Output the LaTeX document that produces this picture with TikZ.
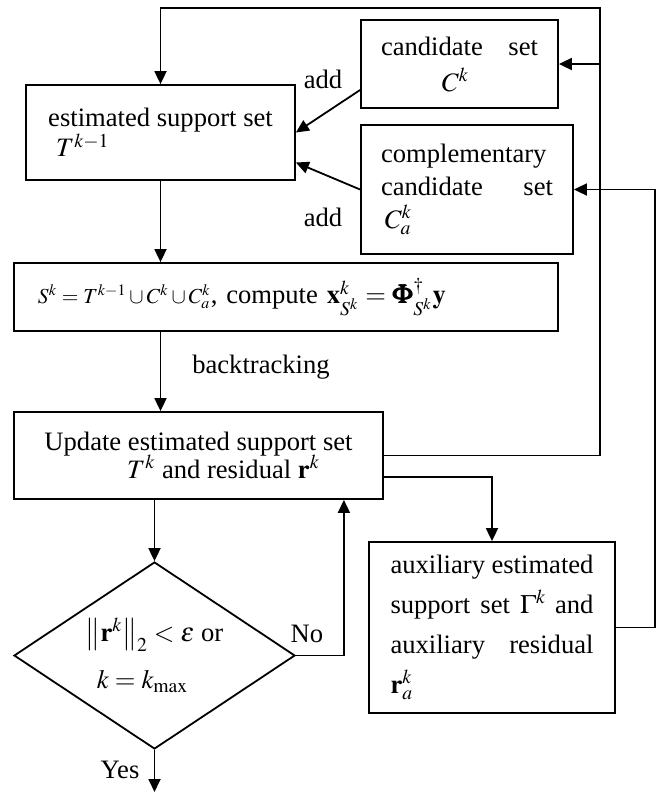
\documentclass[tikz,border=0pt]{standalone}
\usepackage{amsmath}
\usepackage{mathptmx}
\usepackage{bm}
\usepackage[no-math]{fontspec}
\setmainfont{Liberation Serif}
\usetikzlibrary{arrows.meta, positioning, shapes.geometric}
\newcommand{\boxfont}{\fontsize{13.3}{15}\selectfont\lineskiplimit=-10pt}
\tikzset{
	box/.style={draw, rectangle, line width=0.9pt, inner sep=0pt, font=\boxfont},
	decision/.style={draw, diamond, line width=0.9pt, inner sep=0pt, aspect=1.5,
		minimum width=140.5pt, minimum height=93.5pt, align=center, font=\boxfont},
	arr/.style={line width=0.9pt, -{Triangle[length=6.5pt,width=6pt]}},
	lbl/.style={font=\boxfont}
}

\begin{document}
\begin{tikzpicture}[x=0.5pt, y=-0.5pt, line join=miter]
	\useasboundingbox (0,0) rectangle (665,794);

	\node[box, minimum width=134.5pt, minimum height=47.5pt, align=left] (est) at (160.5,132.5)
		{estimated support set\\ \hspace*{4pt}$T^{k-1}$};
	\node[box, minimum width=98.5pt, minimum height=44pt, text width=78.5pt, align=center] (cand) at (459.5,64)
		{candidate\hfill set\\[3pt] \hspace*{-4pt}$C^k$};
	\node[box, minimum width=106pt, minimum height=64.5pt, text width=86pt, align=left] (comp) at (467,189.5)
		{complementary\\[1.5pt] candidate\hfill set\\[1.5pt] \hspace*{2pt}$C_a^k$};
	\node[box, minimum width=272pt, minimum height=34pt, text width=248pt, align=left] (sbox) at (286,297)
		{{\fontsize{10.7}{12}\selectfont $S^k=T^{k-1}\cup C^k\cup C_a^k$}, compute $\mathbf{x}_{S^k}^k=\bm{\Phi}_{S^k}^{\dagger}\mathbf{y}$};
	\node[box, minimum width=184.5pt, minimum height=43.5pt, align=center] (upd) at (198.5,455.5)
		{Update estimated support set\\[-1pt] \hspace*{25pt}$T^k$ and residual $\mathbf{r}^k$};
	\node[decision] (dec) at (154.5,655.5)
		{$\left\|\mathbf{r}^k\right\|_2<\varepsilon$ or\\[8.5pt] $k=k_{\max}$\hspace*{12pt}};
	\node[box, minimum width=123pt, minimum height=85.5pt, text width=101.5pt, align=left] (aux) at (492,627.5)
		{auxiliary\hfill estimated\\[5pt] support\hfill set\hfill $\Gamma^k$ and\\[5pt] auxiliary\hfill residual\\[5pt] $\mathbf{r}_a^k$};

	% labels
	\node[lbl] (add1) at (323,79) {add};
	\node[lbl] (add2) at (323,217) {add};
	\node[lbl] (bt) at (261,367) {backtracking};
	\node[lbl] (no) at (307,634) {No};
	\node[lbl] (yes) at (120,770) {Yes};

	\coordinate (loopR) at (600,8);
	\coordinate (outR) at (655,0);
	\coordinate (stop) at (154.5,792);

	% main flow
	\draw[arr] (est.south) -- (est.south |- sbox.north);
	\draw[arr] (sbox.south -| est.south) -- (upd.north -| est.south);
	\draw[arr] (upd.south -| dec.north) -- (dec.north);
	\draw[arr] (dec.south) -- (stop);
	\draw[arr] (dec.east) -| ([xshift=-20pt]upd.south east);

	% candidate sets added to the support
	\draw[arr] ([yshift=-13pt]cand.west) -- (est.east);
	\draw[arr] (comp.west) -- ([yshift=-15pt]est.east);

	% feedback loops
	\draw[arr] (upd.east) -| (loopR) -| (est.north);
	\draw[arr] (cand.east -| loopR) -- (cand.east);
	\draw[arr] ([yshift=-10.75pt]upd.east) -| (aux.north);
	\draw[arr] (aux.east) -| (comp.east -| outR) -- (comp.east);
\end{tikzpicture}
\end{document}
